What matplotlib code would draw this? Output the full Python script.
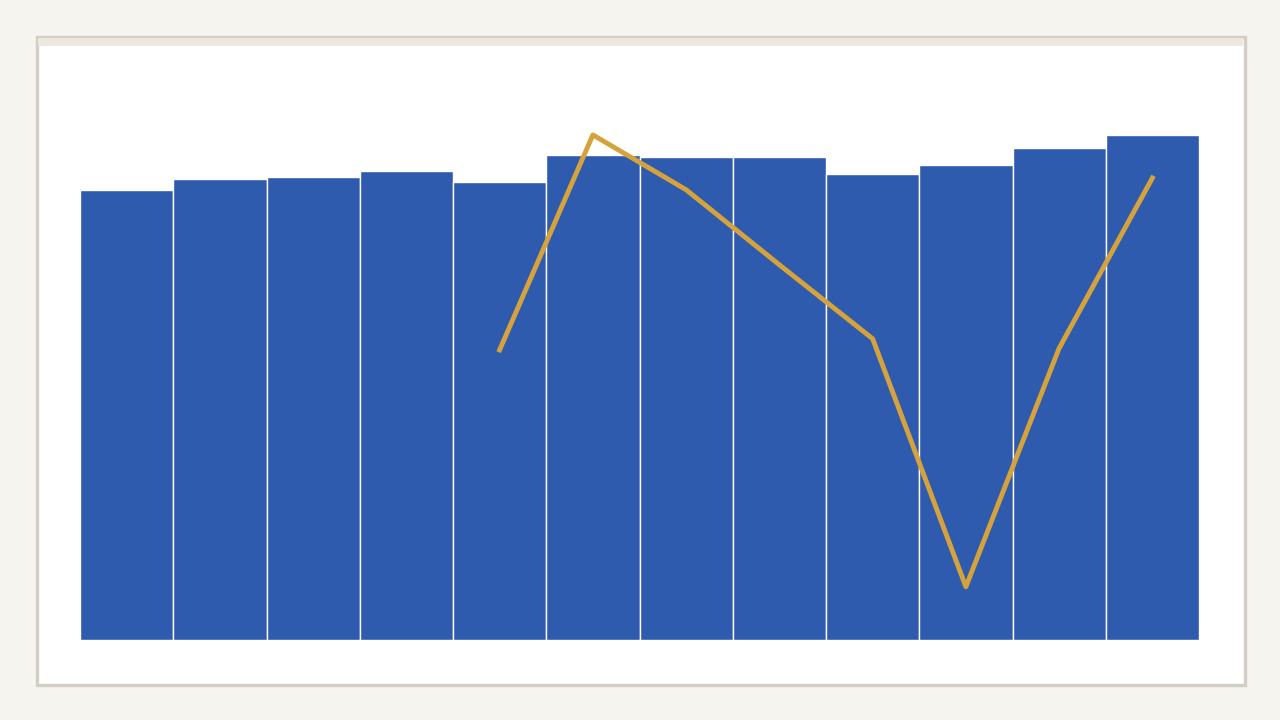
import matplotlib.pyplot as plt
from matplotlib.patches import Rectangle

# values (left scale, gridlines every 20)
months = ['Jan', 'Feb', 'Mar', 'Apr', 'May', 'Jun', 'Jul', 'Aug', 'Sep', 'Oct', 'Nov', 'Dec']
bar_values = [80.4, 82.3, 82.7, 83.8, 81.8, 86.6, 86.3, 86.3, 83.2, 84.8, 87.9, 90.2]
line_values = [None, None, None, None, 51.8, 90.2, 80.4, 67.0, 53.8, 9.5, 52.1, 82.5]

BG = '#f5f4ef'
BAR = '#2f5baf'
LINE = '#d5a23b'

fig = plt.figure(figsize=(12.8, 7.2), dpi=100, facecolor=BG)

# card behind the chart
W, H = 1280, 720
fig.patches.append(Rectangle((36.5 / W, 1 - 684.5 / H), 1208 / W, 648 / H,
                             transform=fig.transFigure, facecolor='white',
                             edgecolor='#d3cec3', linewidth=2.4, zorder=-10))
fig.patches.append(Rectangle((38 / W, 1 - 46 / H), 1205 / W, 8 / H,
                             transform=fig.transFigure, facecolor='#ece8df',
                             edgecolor='none', zorder=-9))

ax = fig.add_axes([80 / W, 80 / H, 1119 / W, 560 / H])
ax.set_facecolor('none')

x = list(range(len(months)))
ax.bar(x, bar_values, width=1.0, color=BAR, edgecolor='white', linewidth=1.0, zorder=2)

lx = [i for i, v in zip(x, line_values) if v is not None]
ly = [v for v in line_values if v is not None]
ax.plot(lx, ly, color=LINE, linewidth=3.5, zorder=3)

ax.set_xlim(-0.5, 11.5)
ax.set_ylim(0, 100)
ax.set_yticks([0, 20, 40, 60, 80])
ax.grid(axis='y', color='#e1e5ee', linewidth=1, zorder=0)
ax.set_axisbelow(True)
ax.tick_params(left=False, bottom=False, labelleft=False, labelbottom=False)
for s in ax.spines.values():
    s.set_visible(False)

fig.savefig('out.png', dpi=100, facecolor=BG)
